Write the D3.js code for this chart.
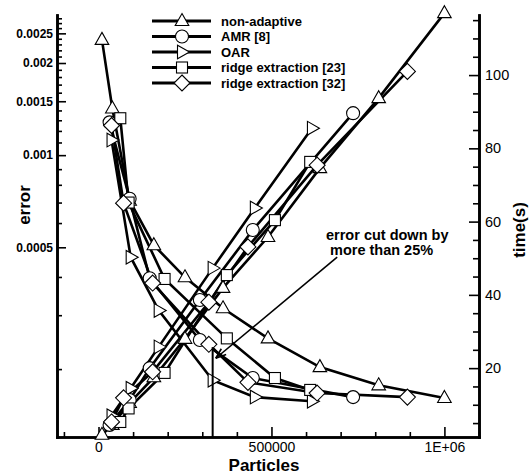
<!DOCTYPE html>
<html>
<head>
<meta charset="utf-8">
<script src="https://cdn.jsdelivr.net/npm/d3@7"></script>
<style>
  body { margin: 0; background: #fff; }
  svg { font-family: "Liberation Sans", Arial, Helvetica, sans-serif; }
</style>
</head>
<body>
<svg id="chart" width="529" height="476"></svg>
<script>
// particles (x) for each method, with error (left log axis) and time (right axis)
const nonAdaptiveN = [10000, 40000, 90000, 160000, 250000, 360000, 490000, 640000, 810000, 1000000];
const nonAdaptiveErr = [0.00238, 0.00142, 0.00071, 0.000508, 0.000399, 0.000316, 0.000252, 0.000203, 0.000177, 0.000161];
const nonAdaptiveTime = [1.8, 4.5, 10.5, 17.5, 28, 41.9, 55.8, 74.6, 93.7, 116.9];

const amrN = [32000, 90000, 148000, 293000, 446000, 736000];
const amrErr = [0.00128, 0.00072, 0.000396, 0.000249, 0.000187, 0.000162];
const amrTime = [4.5, 11.3, 20, 38.6, 57.7, 89.6];

const oarN = [37700, 93000, 174000, 330000, 452000, 617000];
const oarErr = [0.00112, 0.000464, 0.000311, 0.000184, 0.000162, 0.000157];
const oarTime = [7, 14.5, 25.8, 47.3, 63.7, 85.5];

const ridge23N = [63000, 87000, 191000, 371000, 510000, 612000];
const ridge23Err = [0.00132, 0.00070, 0.000394, 0.000252, 0.000187, 0.000171];
const ridge23Time = [5.3, 9, 18.7, 45.4, 60.4, 76.3];

const ridge32N = [37700, 72500, 156500, 319000, 432000, 632000, 893000];
const ridge32Err = [0.00125, 0.000697, 0.000382, 0.000241, 0.000181, 0.000167, 0.000162];
const ridge32Time = [5.3, 11.9, 19, 38, 53.1, 75.4, 101];

const seriesNames = ["non-adaptive", "AMR [8]", "OAR", "ridge extraction [23]", "ridge extraction [32]"];
const seriesMarkers = ["triUp", "circle", "triRight", "square", "diamond"];

const xMajorTicks = [0, 500000, 1000000];
const xTickLabels = ["0", "500000", "1E+06"];
const errMajorTicks = [0.0005, 0.001, 0.0015, 0.002, 0.0025];
const timeMajorTicks = [20, 40, 60, 80, 100];

// annotation (in data units)
const noteText = ["error cut down by", "more than 25%"];
const arrowFrom = [690000, 0.000464];
const arrowTo = [339000, 0.000217];
const markerLine = [330000, 0.000236];

const series = [
  { n: nonAdaptiveN, err: nonAdaptiveErr, time: nonAdaptiveTime },
  { n: amrN, err: amrErr, time: amrTime },
  { n: oarN, err: oarErr, time: oarTime },
  { n: ridge23N, err: ridge23Err, time: ridge23Time },
  { n: ridge32N, err: ridge32Err, time: ridge32Time }
].map((s, i) => ({ ...s, name: seriesNames[i], marker: seriesMarkers[i] }));

const svg = d3.select("#chart");
const plotLeft = 57, plotRight = 479, plotTop = 15, plotBottom = 437;

const x = d3.scaleLinear().domain([-120000, 1100000]).range([plotLeft, plotRight]);
const yErr = d3.scaleLog().domain([0.00012, 0.00287]).range([plotBottom, plotTop]);
const yTime = d3.scaleLinear().domain([1.2, 116.4]).range([plotBottom, plotTop]);

// marker shapes
function drawMarker(g, type, cx, cy) {
  let shape;
  if (type === "circle") {
    shape = g.append("circle").attr("cx", cx).attr("cy", cy).attr("r", 6.5);
  } else if (type === "square") {
    shape = g.append("rect").attr("x", cx - 5.5).attr("y", cy - 5.5).attr("width", 11).attr("height", 11);
  } else if (type === "diamond") {
    shape = g.append("path").attr("d", `M${cx},${cy - 8}L${cx + 8},${cy}L${cx},${cy + 8}L${cx - 8},${cy}Z`);
  } else if (type === "triUp") {
    shape = g.append("path").attr("d", `M${cx},${cy - 7.5}L${cx + 6.8},${cy + 4.5}L${cx - 6.8},${cy + 4.5}Z`);
  } else {
    shape = g.append("path").attr("d", `M${cx + 7.5},${cy}L${cx - 4.5},${cy + 6.8}L${cx - 4.5},${cy - 6.8}Z`);
  }
  shape.attr("fill", "#fff").attr("stroke", "#000").attr("stroke-width", 1.1);
}

// axes
function styleAxis(g) {
  g.select(".domain").attr("stroke-width", 2.6).attr("stroke-linecap", "square");
  g.selectAll(".tick line").attr("stroke-width", 1.6);
}

const errMinor = d3.range(2, 29).map(k => k * 0.0001).filter(v => !errMajorTicks.some(m => Math.abs(m - v) < 1e-9));
svg.append("g").attr("transform", `translate(${plotLeft},0)`)
  .call(d3.axisLeft(yErr).tickValues(errMinor).tickSize(-5).tickSizeOuter(0).tickFormat(""))
  .call(styleAxis);
svg.append("g").attr("transform", `translate(${plotLeft},0)`)
  .call(d3.axisLeft(yErr).tickValues(errMajorTicks).tickSize(-9).tickSizeOuter(0).tickPadding(4).tickFormat(d3.format("")))
  .call(styleAxis)
  .call(g => g.selectAll(".tick text").attr("font-size", 12).attr("font-weight", "bold").attr("fill", "#000"));

const timeMinor = d3.range(5, 116, 5).filter(v => v % 20 !== 0);
svg.append("g").attr("transform", `translate(${plotRight},0)`)
  .call(d3.axisRight(yTime).tickValues(timeMinor).tickSize(-6).tickSizeOuter(0).tickFormat(""))
  .call(styleAxis);
svg.append("g").attr("transform", `translate(${plotRight},0)`)
  .call(d3.axisRight(yTime).tickValues(timeMajorTicks).tickSize(-10).tickSizeOuter(0).tickPadding(6))
  .call(styleAxis)
  .call(g => g.selectAll(".tick text").attr("font-size", 14.5).attr("fill", "#000"));

const xMinor = d3.range(-100000, 1100001, 100000).filter(v => v % 500000 !== 0);
svg.append("g").attr("transform", `translate(0,${plotBottom})`)
  .call(d3.axisBottom(x).tickValues(xMinor).tickSize(-5).tickSizeOuter(0).tickFormat(""))
  .call(styleAxis);
svg.append("g").attr("transform", `translate(0,${plotBottom})`)
  .call(d3.axisBottom(x).tickValues(xMajorTicks).tickSize(-10).tickSizeOuter(0).tickPadding(5)
    .tickFormat((d, i) => xTickLabels[i]))
  .call(styleAxis)
  .call(g => g.selectAll(".tick text").attr("font-size", 14).attr("fill", "#000"));

// axis titles
svg.append("text")
  .attr("transform", `translate(30,205) rotate(-90)`)
  .attr("text-anchor", "middle")
  .attr("font-size", 17).attr("font-weight", "bold")
  .text("error");
svg.append("text")
  .attr("transform", `translate(525,230) rotate(-90)`)
  .attr("text-anchor", "middle")
  .attr("font-size", 17).attr("font-weight", "bold")
  .text("time(s)");
svg.append("text")
  .attr("x", 264).attr("y", 471)
  .attr("text-anchor", "middle")
  .attr("font-size", 17).attr("font-weight", "bold")
  .text("Particles");

// data lines and markers
const errLine = d3.line().x(d => x(d[0])).y(d => yErr(d[1]));
const timeLine = d3.line().x(d => x(d[0])).y(d => yTime(d[1]));
const plot = svg.append("g");

series.forEach(s => {
  const ePts = s.n.map((n, i) => [n, s.err[i]]);
  const tPts = s.n.map((n, i) => [n, s.time[i]]);
  plot.append("path").datum(ePts).attr("d", errLine)
    .attr("fill", "none").attr("stroke", "#000").attr("stroke-width", 2.6);
  plot.append("path").datum(tPts).attr("d", timeLine)
    .attr("fill", "none").attr("stroke", "#000").attr("stroke-width", 2.6);
});
series.forEach(s => {
  s.n.forEach((n, i) => {
    drawMarker(plot, s.marker, x(n), yErr(s.err[i]));
    drawMarker(plot, s.marker, x(n), yTime(s.time[i]));
  });
});

// legend
const legend = svg.append("g");
series.forEach((s, i) => {
  const ly = 21 + i * 15.5;
  legend.append("line").attr("x1", 152).attr("x2", 211).attr("y1", ly).attr("y2", ly)
    .attr("stroke", "#000").attr("stroke-width", 3);
  drawMarker(legend, s.marker, 182, ly);
  legend.append("text").attr("x", 221).attr("y", ly + 4.5)
    .attr("font-size", 13).attr("font-weight", "bold").text(s.name);
});

// annotation
svg.append("line")
  .attr("x1", x(markerLine[0])).attr("x2", x(markerLine[0]))
  .attr("y1", yErr(markerLine[1])).attr("y2", plotBottom)
  .attr("stroke", "#000").attr("stroke-width", 2);
const ax1 = x(arrowFrom[0]), ay1 = yErr(arrowFrom[1]);
const ax2 = x(arrowTo[0]), ay2 = yErr(arrowTo[1]);
svg.append("line").attr("x1", ax1).attr("y1", ay1).attr("x2", ax2).attr("y2", ay2)
  .attr("stroke", "#000").attr("stroke-width", 1.6);
const ang = Math.atan2(ay1 - ay2, ax1 - ax2);
[-0.35, 0.35].forEach(da => {
  svg.append("line").attr("x1", ax2).attr("y1", ay2)
    .attr("x2", ax2 + 11 * Math.cos(ang + da)).attr("y2", ay2 + 11 * Math.sin(ang + da))
    .attr("stroke", "#000").attr("stroke-width", 1.6);
});
noteText.forEach((t, i) => {
  svg.append("text").attr("x", 326 + i * 4).attr("y", 240 + i * 14.5)
    .attr("font-size", 14.5).attr("font-weight", "bold").text(t);
});
</script>
</body>
</html>
